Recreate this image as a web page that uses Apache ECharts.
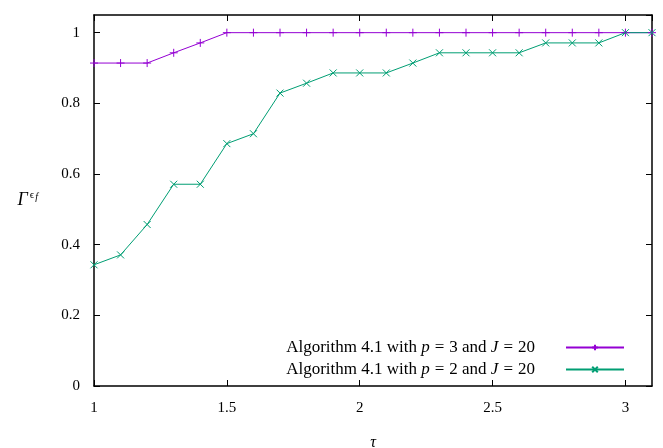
<!DOCTYPE html>
<html>
<head>
<meta charset="utf-8">
<script src="https://cdn.jsdelivr.net/npm/echarts@6/dist/echarts.min.js"></script>
<style>
html, body { margin: 0; padding: 0; background: #fff; }
#chart { width: 663px; height: 448px; }
</style>
</head>
<body>
<div id="chart"></div>
<script>
const taus = [1, 1.1, 1.2, 1.3, 1.4, 1.5, 1.6, 1.7, 1.8, 1.9, 2, 2.1, 2.2, 2.3, 2.4, 2.5, 2.6, 2.7, 2.8, 2.9, 3, 3.1];
const p3Values = [0.914, 0.914, 0.914, 0.943, 0.971, 1, 1, 1, 1, 1, 1, 1, 1, 1, 1, 1, 1, 1, 1, 1, 1, 1];
const p2Values = [0.343, 0.371, 0.457, 0.571, 0.571, 0.686, 0.714, 0.829, 0.857, 0.886, 0.886, 0.886, 0.914, 0.943, 0.943, 0.943, 0.943, 0.971, 0.971, 0.971, 1, 1];
const seriesNames = ['Algorithm 4.1 with {i|p}{m|=}3 and {i|J}{m|=}20', 'Algorithm 4.1 with {i|p}{m|=}2 and {i|J}{m|=}20'];
const xTicks = [1, 1.5, 2, 2.5, 3];
const yTicks = [0, 0.2, 0.4, 0.6, 0.8, 1];

const font = 'Liberation Serif';
const chart = echarts.init(document.getElementById('chart'));

function pairs(xs, ys) {
    let out = [];
    for (let i = 0; i < xs.length; i++) out.push([xs[i], ys[i]]);
    return out;
}

const plusPath = 'path://M0,-5 L0,5 M-5,0 L5,0';
const crossPath = 'path://M-5,-5 L5,5 M-5,5 L5,-5';

// gnuplot style frame: black border, inward ticks on all four sides
function frameAxis() {
    return {
        axisLine: { show: true, onZero: false, lineStyle: { color: '#000', width: 1.5 } },
        axisTick: { show: true, inside: true, length: 6, lineStyle: { color: '#000', width: 1 } },
        splitLine: { show: false }
    };
}

const option = {
    backgroundColor: '#fff',
    animation: false,
    grid: { left: 94, right: 11, top: 15, bottom: 62, outerBoundsMode: 'none' },
    legend: {
        right: 33,
        top: 334,
        orient: 'vertical',
        align: 'right',
        itemWidth: 58,
        itemHeight: 7,
        itemGap: 5,
        data: seriesNames,
        textStyle: {
            fontFamily: font,
            fontSize: 17,
            color: '#000',
            padding: [0, 26, 0, 0],
            rich: {
                i: { fontFamily: font, fontStyle: 'italic', fontSize: 17, color: '#000' },
                m: { fontFamily: font, fontSize: 17, color: '#000', padding: [0, 5, 0, 5] }
            }
        }
    },
    xAxis: [Object.assign({
        type: 'value',
        min: 1,
        max: 3.1,
        interval: 0.5,
        position: 'bottom',
        name: 'τ',
        nameLocation: 'middle',
        nameGap: 49,
        nameTextStyle: { fontFamily: font, fontStyle: 'italic', fontSize: 16, color: '#000' },
        axisLabel: {
            margin: 15,
            showMaxLabel: false,
            fontFamily: font, fontSize: 15, color: '#000',
            formatter: v => xTicks.indexOf(v) >= 0 ? String(v) : ''
        }
    }, frameAxis()), Object.assign({
        type: 'value',
        min: 1,
        max: 3.1,
        interval: 0.5,
        position: 'top',
        axisLabel: { show: false }
    }, frameAxis())],
    yAxis: [Object.assign({
        type: 'value',
        min: 0,
        max: 1.05,
        interval: 0.2,
        position: 'left',
        name: '{g|Γ}{e|ϵ}{f|f}',
        nameLocation: 'middle',
        nameRotate: 0,
        nameGap: 56,
        nameTextStyle: {
            rich: {
                g: { fontFamily: font, fontStyle: 'italic', fontSize: 18, color: '#000' },
                e: { fontFamily: font, fontSize: 11, color: '#000', padding: [0, 0, 11, 2] },
                f: { fontFamily: font, fontStyle: 'italic', fontSize: 10, color: '#000', padding: [0, 0, 7, 1] }
            }
        },
        axisLabel: {
            margin: 14,
            showMaxLabel: false,
            fontFamily: font, fontSize: 15, color: '#000',
            formatter: v => yTicks.indexOf(Math.round(v * 10) / 10) >= 0 ? String(Math.round(v * 10) / 10) : ''
        }
    }, frameAxis()), Object.assign({
        type: 'value',
        min: 0,
        max: 1.05,
        interval: 0.2,
        position: 'right',
        axisLabel: { show: false }
    }, frameAxis())],
    series: [{
        name: seriesNames[0],
        type: 'line',
        data: pairs(taus, p3Values),
        symbol: plusPath,
        symbolSize: 8,
        showAllSymbol: true,
        color: '#9400d3',
        lineStyle: { color: '#9400d3', width: 1 },
        itemStyle: { color: '#9400d3', borderColor: '#9400d3', borderWidth: 1 },
        clip: false
    }, {
        name: seriesNames[1],
        type: 'line',
        data: pairs(taus, p2Values),
        symbol: crossPath,
        symbolSize: 7,
        showAllSymbol: true,
        color: '#009e73',
        lineStyle: { color: '#009e73', width: 1 },
        itemStyle: { color: '#009e73', borderColor: '#009e73', borderWidth: 1 },
        clip: false
    }]
};

chart.setOption(option);
window.addEventListener('resize', function () {
    chart.resize();
});
</script>
</body>
</html>
